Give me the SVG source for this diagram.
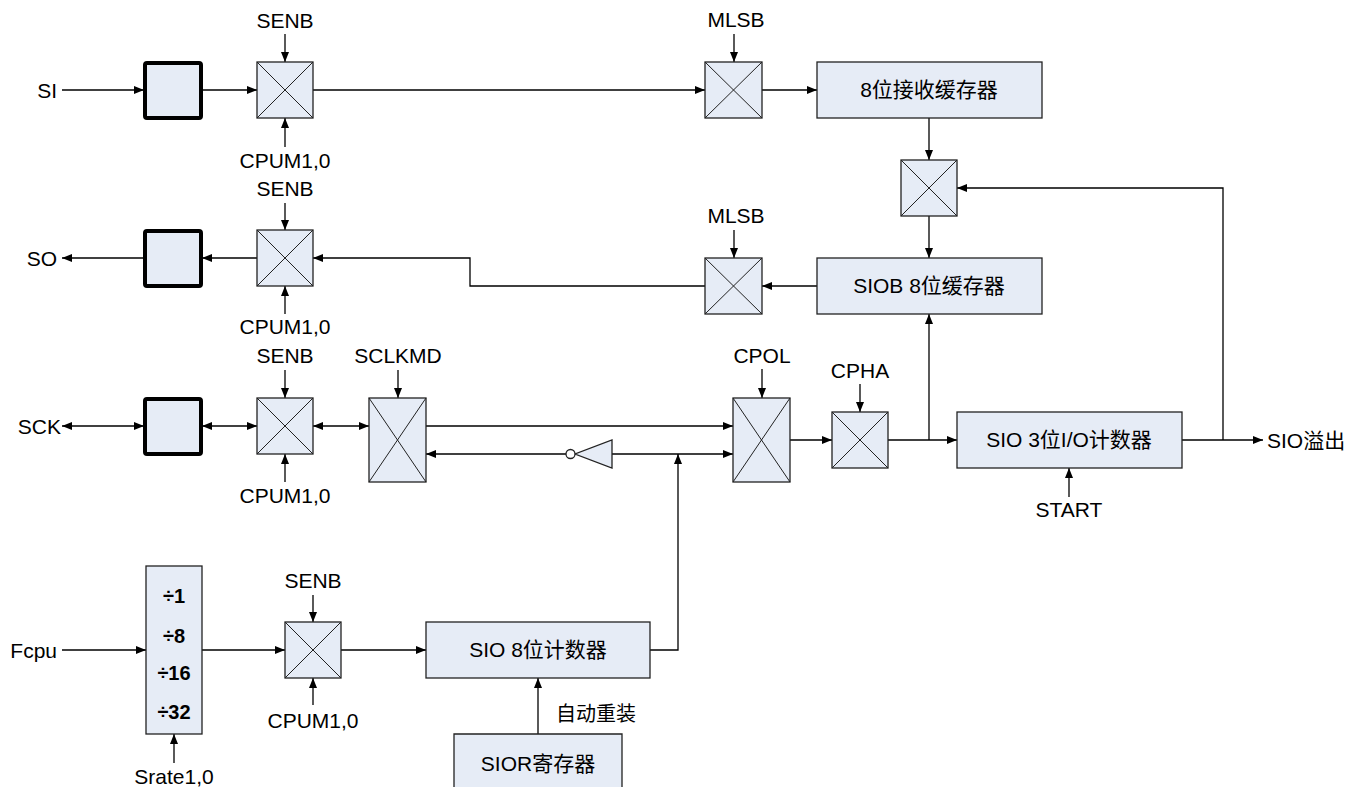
<svg xmlns="http://www.w3.org/2000/svg" width="1362" height="787" viewBox="0 0 1362 787">
<defs>
<marker id="ah" viewBox="0 0 10 8" refX="10" refY="4" markerWidth="11" markerHeight="8" orient="auto-start-reverse" markerUnits="userSpaceOnUse"><path d="M0,0 L10,4 L0,8 Z" fill="#000"/></marker>
</defs>
<style>
text{font-family:"Liberation Sans","Noto Sans CJK SC",sans-serif;font-size:20px;fill:#000}
.c{text-anchor:middle}
.e{text-anchor:end}
.b{font-weight:bold}
.mux{fill:#E6ECF6;stroke:#222;stroke-width:1.3}
.x{stroke:#222;stroke-width:1;fill:none}
.thick{fill:#E6ECF6;stroke:#000;stroke-width:4}
.box{fill:#E6ECF6;stroke:#222;stroke-width:1.3}
.w{fill:none;stroke:#000;stroke-width:1.3}
.a{marker-end:url(#ah)}
.ab{marker-start:url(#ah);marker-end:url(#ah)}
</style>
<rect width="1362" height="787" fill="#fff"/>

<g id="connectors">
<!-- row SI -->
<line class="w a" x1="62" y1="90" x2="144" y2="90"/>
<line class="w a" x1="202" y1="90" x2="257" y2="90"/>
<line class="w a" x1="313" y1="90" x2="705" y2="90"/>
<line class="w a" x1="762" y1="90" x2="817" y2="90"/>
<line class="w a" x1="285" y1="34" x2="285" y2="62"/>
<line class="w a" x1="285" y1="147" x2="285" y2="118"/>
<line class="w a" x1="734" y1="34" x2="734" y2="62"/>
<line class="w a" x1="929" y1="118" x2="929" y2="160"/>
<line class="w a" x1="929" y1="216" x2="929" y2="258"/>
<!-- row SO -->
<line class="w a" x1="817" y1="286" x2="762" y2="286"/>
<polyline class="w a" points="705,286 470,286 470,258 313,258"/>
<line class="w a" x1="257" y1="258" x2="202" y2="258"/>
<line class="w a" x1="144" y1="258" x2="62" y2="258"/>
<line class="w a" x1="285" y1="203" x2="285" y2="230"/>
<line class="w a" x1="285" y1="314" x2="285" y2="286"/>
<line class="w a" x1="734" y1="230" x2="734" y2="258"/>
<!-- row SCK -->
<line class="w ab" x1="62" y1="426" x2="144" y2="426"/>
<line class="w ab" x1="202" y1="426" x2="257" y2="426"/>
<line class="w ab" x1="313" y1="426" x2="369" y2="426"/>
<line class="w a" x1="285" y1="370" x2="285" y2="398"/>
<line class="w a" x1="285" y1="482" x2="285" y2="454"/>
<line class="w a" x1="398" y1="370" x2="398" y2="398"/>
<line class="w a" x1="426" y1="426" x2="733" y2="426"/>
<line class="w a" x1="566" y1="454" x2="426" y2="454"/>
<line class="w a" x1="612" y1="454" x2="733" y2="454"/>
<line class="w a" x1="762" y1="369" x2="762" y2="398"/>
<line class="w a" x1="790" y1="440" x2="832" y2="440"/>
<line class="w a" x1="860" y1="384" x2="860" y2="412"/>
<line class="w a" x1="888" y1="440" x2="957" y2="440"/>
<line class="w a" x1="929" y1="440" x2="929" y2="314"/>
<line class="w a" x1="1182" y1="440" x2="1263" y2="440"/>
<polyline class="w a" points="1223,440 1223,188 957,188"/>
<line class="w a" x1="1069" y1="497" x2="1069" y2="468"/>
<!-- row Fcpu -->
<line class="w a" x1="62" y1="650" x2="146" y2="650"/>
<line class="w a" x1="202" y1="650" x2="285" y2="650"/>
<line class="w a" x1="341" y1="650" x2="426" y2="650"/>
<line class="w a" x1="313" y1="595" x2="313" y2="622"/>
<line class="w a" x1="313" y1="705" x2="313" y2="678"/>
<line class="w a" x1="174" y1="763" x2="174" y2="734"/>
<polyline class="w a" points="650,650 678,650 678,454"/>
<line class="w a" x1="538" y1="734" x2="538" y2="678"/>
</g>

<g id="inverter">
<polygon points="612,440 612,468 575,454" fill="#E6ECF6" stroke="#222" stroke-width="1.3"/>
<circle cx="570.5" cy="454" r="4.5" fill="#fff" stroke="#222" stroke-width="1.3"/>
</g>

<g id="si-buf"><rect class="thick" x="145" y="63" width="56" height="55" rx="2"/></g>
<g id="so-buf"><rect class="thick" x="145" y="231" width="56" height="55" rx="2"/></g>
<g id="sck-buf"><rect class="thick" x="145" y="399" width="56" height="55" rx="2"/></g>

<g id="mux-si"><rect class="mux" x="257" y="62" width="56" height="56"/><path class="x" d="M257,62 L313,118 M313,62 L257,118"/></g>
<g id="mux-so"><rect class="mux" x="257" y="230" width="56" height="56"/><path class="x" d="M257,230 L313,286 M313,230 L257,286"/></g>
<g id="mux-sck"><rect class="mux" x="257" y="398" width="56" height="56"/><path class="x" d="M257,398 L313,454 M313,398 L257,454"/></g>
<g id="mux-sclkmd"><rect class="mux" x="369" y="398" width="57" height="84"/><path class="x" d="M369,398 L426,482 M426,398 L369,482"/></g>
<g id="mux-cpol"><rect class="mux" x="733" y="398" width="57" height="84"/><path class="x" d="M733,398 L790,482 M790,398 L733,482"/></g>
<g id="mux-cpha"><rect class="mux" x="832" y="412" width="56" height="56"/><path class="x" d="M832,412 L888,468 M888,412 L832,468"/></g>
<g id="mux-mlsb1"><rect class="mux" x="705" y="62" width="57" height="56"/><path class="x" d="M705,62 L762,118 M762,62 L705,118"/></g>
<g id="mux-mlsb2"><rect class="mux" x="705" y="258" width="57" height="56"/><path class="x" d="M705,258 L762,314 M762,258 L705,314"/></g>
<g id="mux-mid"><rect class="mux" x="901" y="160" width="56" height="56"/><path class="x" d="M901,160 L957,216 M957,160 L901,216"/></g>
<g id="mux-fcpu"><rect class="mux" x="285" y="622" width="56" height="56"/><path class="x" d="M285,622 L341,678 M341,622 L285,678"/></g>

<g id="rx-buf"><rect class="box" x="817" y="62" width="225" height="56"/><text class="c" x="929" y="97" style="font-size:21px">8位接收缓存器</text></g>
<g id="siob"><rect class="box" x="817" y="258" width="225" height="56"/><text class="c" x="929" y="293" style="font-size:21px">SIOB 8位缓存器</text></g>
<g id="cnt3"><rect class="box" x="957" y="412" width="225" height="56"/><text class="c" x="1069" y="447" style="font-size:21px">SIO 3位I/O计数器</text></g>
<g id="cnt8"><rect class="box" x="426" y="622" width="224" height="56"/><text class="c" x="538" y="657" style="font-size:21px">SIO 8位计数器</text></g>
<g id="sior"><path class="box" d="M454,790 L454,734 L622,734 L622,790"/><text class="c" x="538" y="771" style="font-size:21px">SIOR寄存器</text></g>
<g id="divider"><rect class="box" x="146" y="566" width="56" height="168"/>
<text class="c b" x="174" y="603">÷1</text>
<text class="c b" x="174" y="643">÷8</text>
<text class="c b" x="174" y="680">÷16</text>
<text class="c b" x="174" y="719">÷32</text></g>

<g id="labels" style="font-size:21px">
<text class="e" x="57" y="98" style="font-size:21px">SI</text>
<text class="e" x="57" y="266" style="font-size:21px">SO</text>
<text class="e" x="61" y="434" style="font-size:21px">SCK</text>
<text class="e" x="57" y="658" style="font-size:21px">Fcpu</text>
<text class="c" x="285" y="28" style="font-size:21px">SENB</text>
<text class="c" x="285" y="168" style="font-size:21px">CPUM1,0</text>
<text class="c" x="285" y="196" style="font-size:21px">SENB</text>
<text class="c" x="285" y="334" style="font-size:21px">CPUM1,0</text>
<text class="c" x="285" y="363" style="font-size:21px">SENB</text>
<text class="c" x="285" y="503" style="font-size:21px">CPUM1,0</text>
<text class="c" x="398" y="363" style="font-size:21px">SCLKMD</text>
<text class="c" x="736" y="27" style="font-size:21px">MLSB</text>
<text class="c" x="736" y="223" style="font-size:21px">MLSB</text>
<text class="c" x="762" y="363" style="font-size:21px">CPOL</text>
<text class="c" x="860" y="378" style="font-size:21px">CPHA</text>
<text class="c" x="1069" y="517" style="font-size:21px">START</text>
<text x="1267" y="448" style="font-size:21px">SIO溢出</text>
<text class="c" x="313" y="588" style="font-size:21px">SENB</text>
<text class="c" x="313" y="728" style="font-size:21px">CPUM1,0</text>
<text class="c" x="174" y="784" style="font-size:21px">Srate1,0</text>
<text x="556" y="721" style="font-size:20px">自动重装</text>
</g>
</svg>
